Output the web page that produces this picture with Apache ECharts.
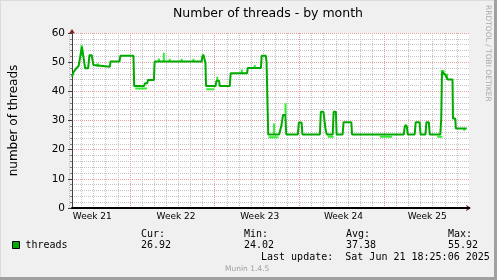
<!DOCTYPE html>
<html>
<head>
<meta charset="utf-8">
<script src="https://cdn.jsdelivr.net/npm/echarts@6/dist/echarts.min.js"></script>
<style>
html, body { margin: 0; padding: 0; background: #f0f0f0; }
#chart { width: 497px; height: 280px; }
</style>
</head>
<body>
<div id="chart"></div>
<script>
// days since monday of week 21
const timeDays = [1.80,1.94,2.16,2.35,2.49,2.63,2.77,2.90,3.15,3.26,
  3.45,3.59,3.72,4.96,5.02,5.76,5.85,6.94,7.00,7.83,
  7.90,8.10,8.15,8.65,8.71,12.64,12.70,12.78,12.92,12.96,
  13.01,13.80,13.88,14.10,14.16,14.99,15.07,16.44,16.50,17.60,
  17.66,18.01,18.07,18.15,18.21,19.12,19.30,19.45,19.64,19.72,
  20.69,20.77,21.00,21.07,22.53,22.61,22.83,23.00,23.11,23.60,
  23.68,23.87,23.93,24.43,24.51,25.16,25.22,29.55,29.63,29.80,
  29.88,30.46,30.54,30.87,30.95,31.36,31.44,31.64,31.72,32.60,
  32.68,32.74,33.03,33.20,33.62,33.66,33.85,33.90,34.81];
const threadValues = [45.0,46.7,47.9,48.7,51.9,55.3,54.7,47.9,47.9,52.4,
  52.4,49.0,48.4,48.4,50.2,50.2,52.2,52.2,41.8,41.8,
  42.8,42.8,43.9,43.9,50.2,50.2,51.9,52.6,52.6,49.8,
  41.8,41.8,43.6,43.6,41.8,41.8,46.2,46.2,48.0,48.0,
  52.2,52.2,50.0,50.0,25.2,25.2,28.0,31.9,31.9,25.2,
  25.2,29.3,29.3,25.2,25.2,33.0,33.0,27.0,25.2,25.2,
  33.0,33.0,25.2,25.2,29.4,29.4,25.2,25.2,28.1,28.1,
  25.2,25.2,29.4,29.4,25.2,25.2,29.4,29.4,25.2,25.2,
  30.7,46.7,45.6,44.1,44.1,30.7,30.7,27.3,27.3];

// light green max spikes / min dips
const spikeDays = [2.60,3.95,9.07,9.48,9.97,10.97,11.96,13.94,16.00,17.08,18.70,19.66,29.71,32.72,32.87,33.17,34.60];
const spikeLow  = [52.0,48.4,50.2,50.2,50.2,50.2,50.2,43.6,46.2,48.0,25.2,31.9,28.1,46.7,45.6,44.1,26.5];
const spikeHigh = [55.9,49.6,51.3,53.2,51.2,51.2,51.2,45.0,47.5,49.0,29.0,35.9,28.8,47.3,47.3,46.0,27.3];
const dipStart = [7.09,13.03,18.23,23.19,27.56,32.35];
const dipEnd   = [8.07,13.70,19.06,23.68,28.56,32.77];
const dipValue = [41.0,40.7,24.3,24.4,24.4,24.4];

const weekLabels = ['Week 21','Week 22','Week 23','Week 24','Week 25'];
const weekCenters = [3.5,10.5,17.5,24.5,31.5];
const statNames = ['Cur:','Min:','Avg:','Max:'];
const statValues = ['26.92','24.02','37.38','55.92'];

const xMin = 1.8, xMax = 35.0;
const mainColor = '#00aa00';
const lightColor = '#33ee33';
const redGrid = '#e8a0a0';
const grayGrid = '#c4c4c4';

let mainData = timeDays.map(function (d, i) { return [d, threadValues[i]]; });
let lightData = [];
spikeDays.forEach(function (d, i) {
  lightData.push([d, spikeLow[i]], [d, spikeHigh[i]], [d, '-']);
});
dipStart.forEach(function (d, i) {
  lightData.push([d, dipValue[i]], [dipEnd[i], dipValue[i]], [dipEnd[i], '-']);
});

// plot box; extra grids reach left so that day / week lines start on a whole number
const plotLeft = 67, plotRight = 28, plotTop = 33, plotBottom = 72;
const pxPerDay = (497 - plotLeft - plotRight) / (xMax - xMin);
const dayMin = Math.floor(xMin), weekMin = 0;

let chart = echarts.init(document.getElementById('chart'));
let font = 'DejaVu Sans';
let mono = 'DejaVu Sans Mono';

let statGraphics = [];
let statX = [141, 244, 346, 448];
statNames.forEach(function (n, i) {
  statGraphics.push({ type: 'text', x: statX[i], y: 234, style: { text: n, font: '10px ' + mono, fill: '#000', verticalAlign: 'middle' } });
  statGraphics.push({ type: 'text', x: statX[i], y: 245.5, style: { text: statValues[i], font: '10px ' + mono, fill: '#000', verticalAlign: 'middle' } });
});

function hiddenAxis(extra) {
  return Object.assign({
    type: 'value',
    axisLine: { show: false, onZero: false }, axisTick: { show: false }, axisLabel: { show: false }, splitLine: { show: false }
  }, extra);
}

let option = {
  animation: false,
  backgroundColor: '#f0f0f0',
  grid: [
    { left: plotLeft, right: plotRight, top: plotTop, bottom: plotBottom, show: true, backgroundColor: '#ffffff', borderWidth: 0 },
    { left: plotLeft - (xMin - dayMin) * pxPerDay, right: plotRight, top: plotTop, bottom: plotBottom },
    { left: plotLeft - (xMin - weekMin) * pxPerDay, right: plotRight, top: plotTop, bottom: plotBottom }
  ],
  legend: {
    data: ['threads'],
    left: 12, top: 240,
    icon: 'rect', itemWidth: 7, itemHeight: 7, itemGap: 5,
    itemStyle: { borderColor: '#000', borderWidth: 1 },
    textStyle: { fontFamily: mono, fontSize: 10, color: '#000', padding: [0, 0, 0, 1] },
    padding: 0
  },
  xAxis: [{
    type: 'value', min: xMin, max: xMax,
    splitLine: { show: false },
    axisLine: { show: true, onZero: false, lineStyle: { color: '#000', width: 2 } },
    axisTick: { show: false },
    axisLabel: {
      customValues: weekCenters, margin: 4,
      fontFamily: font, fontSize: 9, color: '#000',
      formatter: function (v) {
        let i = weekCenters.findIndex(function (c) { return Math.abs(c - v) < 0.01; });
        return i >= 0 ? weekLabels[i] : '';
      }
    },
    z: 3
  }, {
    type: 'value', min: xMin, max: xMax, position: 'bottom',
    axisLine: { show: true, onZero: false, symbol: ['none', 'arrow'], symbolSize: [5, 5], symbolOffset: [0, 2], lineStyle: { color: '#8b1a1a' } },
    axisTick: { show: false }, axisLabel: { show: false }, splitLine: { show: false },
    z: 1
  },
  // daily grid lines
  hiddenAxis({
    gridIndex: 1, min: dayMin, max: Math.floor(xMax), interval: 1,
    splitLine: { show: true, showMinLine: false, showMaxLine: false, lineStyle: { color: grayGrid, type: [1, 1] } },
    z: 0
  }),
  // week grid lines
  hiddenAxis({
    gridIndex: 2, min: weekMin, max: Math.floor(xMax), interval: 7,
    splitLine: { show: true, showMinLine: false, showMaxLine: false, lineStyle: { color: redGrid, type: [1, 1] } },
    z: 1
  })],
  yAxis: [{
    type: 'value', min: 0, max: 60, interval: 10,
    name: 'number of threads', nameLocation: 'middle', nameGap: 52,
    nameTextStyle: { fontFamily: font, fontSize: 12, color: '#000' },
    axisLine: { show: true, onZero: false, lineStyle: { color: '#404040' } },
    axisTick: { show: true, length: 4, lineStyle: { color: '#404040' } },
    axisLabel: { margin: 7, fontFamily: font, fontSize: 10.5, color: '#000' },
    splitLine: { show: true, lineStyle: { color: redGrid, type: [1, 1] } },
    z: 2
  }, {
    type: 'value', min: 0, max: 60, position: 'left',
    axisLine: { show: true, onZero: false, symbol: ['none', 'arrow'], symbolSize: [5, 5], symbolOffset: [0, 4], lineStyle: { color: '#8b1a1a' } },
    axisTick: { show: false }, axisLabel: { show: false }, splitLine: { show: false },
    z: 1
  },
  // minor horizontal grid every 2
  hiddenAxis({
    min: 0, max: 60, interval: 2, position: 'left',
    axisTick: { show: true, length: 2, lineStyle: { color: '#808080' } },
    splitLine: { show: true, showMinLine: false, showMaxLine: false, lineStyle: { color: grayGrid, type: [1, 1] } },
    z: 0
  }),
  hiddenAxis({ gridIndex: 1, min: 0, max: 60 }),
  hiddenAxis({ gridIndex: 2, min: 0, max: 60 })],
  series: [{
    name: 'peaks',
    type: 'line',
    data: lightData,
    showSymbol: false,
    connectNulls: false,
    lineStyle: { color: lightColor, width: 2 },
    itemStyle: { color: lightColor },
    z: 3
  }, {
    name: 'threads',
    type: 'line',
    data: mainData,
    showSymbol: false,
    lineStyle: { color: mainColor, width: 2 },
    itemStyle: { color: mainColor },
    z: 4
  }],
  graphic: [
    { type: 'rect', shape: { x: 494, y: 0, width: 3, height: 280 }, style: { fill: '#a0a0a0' } },
    { type: 'rect', shape: { x: 0, y: 277, width: 497, height: 3 }, style: { fill: '#a0a0a0' } },
    { type: 'rect', shape: { x: 0, y: 0, width: 494, height: 1 }, style: { fill: '#dcdcdc' } },
    { type: 'rect', shape: { x: 0, y: 0, width: 1, height: 277 }, style: { fill: '#dcdcdc' } },
    { type: 'text', x: 268, y: 13.5, style: { text: 'Number of threads - by month', font: '12.5px ' + font, fill: '#000', align: 'center', verticalAlign: 'middle' } },
    { type: 'text', x: 488, y: 5, rotation: -Math.PI / 2, style: { text: 'RRDTOOL / TOBI OETIKER', font: '7.5px ' + font, fill: '#a8a8a8', align: 'left', verticalAlign: 'middle' } },
    { type: 'text', x: 261, y: 257, style: { text: 'Last update:  Sat Jun 21 18:25:06 2025', font: '10px ' + mono, fill: '#000', verticalAlign: 'middle' } },
    { type: 'text', x: 225, y: 269, style: { text: 'Munin 1.4.5', font: '7.5px ' + font, fill: '#a0a0a0', verticalAlign: 'middle' } }
  ].concat(statGraphics)
};

chart.setOption(option);
window.addEventListener('resize', function () { chart.resize(); });
</script>
</body>
</html>
